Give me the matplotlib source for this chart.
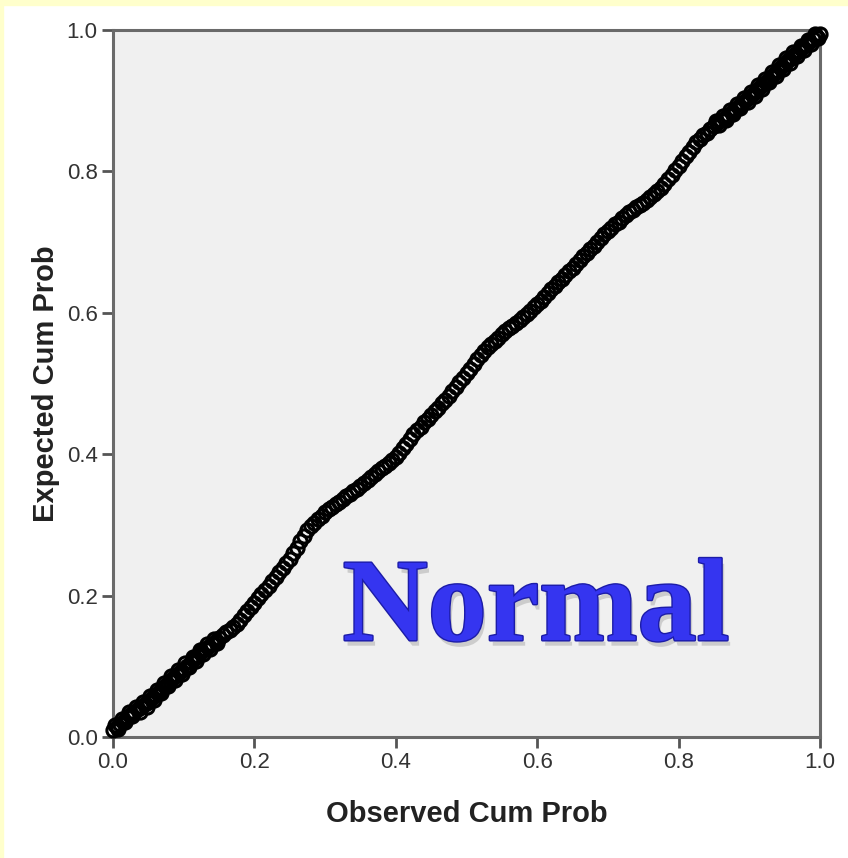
import matplotlib.pyplot as plt
import matplotlib.patheffects as pe
from matplotlib.patches import Rectangle

# observed vs expected cumulative probability
observed = [
    0.000, 0.005, 0.010, 0.015, 0.020, 0.025, 0.030, 0.035, 0.040, 0.045,
    0.050, 0.055, 0.060, 0.065, 0.070, 0.075, 0.080, 0.085, 0.090, 0.095,
    0.100, 0.105, 0.110, 0.115, 0.120, 0.125, 0.130, 0.135, 0.140, 0.145,
    0.150, 0.155, 0.160, 0.165, 0.170, 0.175, 0.180, 0.185, 0.190, 0.195,
    0.200, 0.205, 0.210, 0.215, 0.220, 0.225, 0.230, 0.235, 0.240, 0.245,
    0.250, 0.255, 0.260, 0.265, 0.270, 0.275, 0.280, 0.285, 0.290, 0.295,
    0.300, 0.305, 0.310, 0.315, 0.320, 0.325, 0.330, 0.335, 0.340, 0.345,
    0.350, 0.355, 0.360, 0.365, 0.370, 0.375, 0.380, 0.385, 0.390, 0.395,
    0.400, 0.405, 0.410, 0.415, 0.420, 0.425, 0.430, 0.435, 0.440, 0.445,
    0.450, 0.455, 0.460, 0.465, 0.470, 0.475, 0.480, 0.485, 0.490, 0.495,
    0.500, 0.505, 0.510, 0.515, 0.520, 0.525, 0.530, 0.535, 0.540, 0.545,
    0.550, 0.555, 0.560, 0.565, 0.570, 0.575, 0.580, 0.585, 0.590, 0.595,
    0.600, 0.605, 0.610, 0.615, 0.620, 0.625, 0.630, 0.635, 0.640, 0.645,
    0.650, 0.655, 0.660, 0.665, 0.670, 0.675, 0.680, 0.685, 0.690, 0.695,
    0.700, 0.705, 0.710, 0.715, 0.720, 0.725, 0.730, 0.735, 0.740, 0.745,
    0.750, 0.755, 0.760, 0.765, 0.770, 0.775, 0.780, 0.785, 0.790, 0.795,
    0.800, 0.805, 0.810, 0.815, 0.820, 0.825, 0.830, 0.835, 0.840, 0.845,
    0.850, 0.855, 0.860, 0.865, 0.870, 0.875, 0.880, 0.885, 0.890, 0.895,
    0.900, 0.905, 0.910, 0.915, 0.920, 0.925, 0.930, 0.935, 0.940, 0.945,
    0.950, 0.955, 0.960, 0.965, 0.970, 0.975, 0.980, 0.985, 0.990, 0.995,
    1.000,
]
expected = [
    0.010, 0.014, 0.019, 0.023, 0.028, 0.032, 0.035, 0.039, 0.043, 0.046,
    0.050, 0.055, 0.060, 0.064, 0.069, 0.074, 0.079, 0.083, 0.087, 0.092,
    0.096, 0.101, 0.106, 0.110, 0.115, 0.120, 0.124, 0.128, 0.132, 0.136,
    0.140, 0.144, 0.148, 0.152, 0.156, 0.160, 0.166, 0.172, 0.178, 0.184,
    0.190, 0.196, 0.202, 0.208, 0.214, 0.220, 0.226, 0.233, 0.239, 0.246,
    0.252, 0.260, 0.268, 0.277, 0.285, 0.293, 0.298, 0.303, 0.308, 0.313,
    0.318, 0.322, 0.326, 0.329, 0.333, 0.337, 0.341, 0.344, 0.348, 0.351,
    0.355, 0.359, 0.363, 0.368, 0.372, 0.376, 0.380, 0.384, 0.388, 0.392,
    0.396, 0.402, 0.409, 0.415, 0.422, 0.428, 0.434, 0.439, 0.445, 0.450,
    0.456, 0.461, 0.466, 0.472, 0.477, 0.482, 0.489, 0.495, 0.502, 0.508,
    0.515, 0.521, 0.527, 0.534, 0.540, 0.546, 0.551, 0.556, 0.560, 0.565,
    0.570, 0.574, 0.578, 0.582, 0.586, 0.590, 0.594, 0.599, 0.603, 0.608,
    0.612, 0.617, 0.622, 0.628, 0.633, 0.638, 0.643, 0.648, 0.654, 0.659,
    0.664, 0.669, 0.674, 0.680, 0.685, 0.690, 0.695, 0.700, 0.706, 0.711,
    0.716, 0.720, 0.725, 0.729, 0.734, 0.738, 0.742, 0.745, 0.749, 0.752,
    0.756, 0.760, 0.764, 0.768, 0.772, 0.776, 0.782, 0.789, 0.795, 0.802,
    0.808, 0.815, 0.822, 0.828, 0.835, 0.842, 0.846, 0.851, 0.855, 0.860,
    0.864, 0.868, 0.872, 0.876, 0.880, 0.884, 0.888, 0.892, 0.897, 0.901,
    0.905, 0.910, 0.914, 0.919, 0.923, 0.928, 0.933, 0.938, 0.942, 0.947,
    0.952, 0.957, 0.961, 0.966, 0.970, 0.975, 0.979, 0.983, 0.987, 0.991,
    0.995,
]
# the tails are packed much tighter in the picture
observed_low = [
    0.0025, 0.0075, 0.0125, 0.0175, 0.0225, 0.0275, 0.0325, 0.0375, 0.0425, 0.0475,
    0.0525, 0.0575, 0.0625, 0.0675, 0.0725, 0.0775, 0.0825, 0.0875, 0.0925, 0.0975,
    0.1025, 0.1075, 0.1125, 0.1175, 0.1225, 0.1275, 0.1325, 0.1375, 0.1425, 0.1475,
]
expected_low = [
    0.017, 0.012, 0.026, 0.021, 0.035, 0.029, 0.042, 0.036, 0.050, 0.043,
    0.058, 0.052, 0.067, 0.062, 0.077, 0.072, 0.086, 0.080, 0.095, 0.089,
    0.104, 0.099, 0.113, 0.108, 0.123, 0.117, 0.131, 0.125, 0.139, 0.133,
]
observed_high = [
    0.8525, 0.8575, 0.8625, 0.8675, 0.8725, 0.8775, 0.8825, 0.8875, 0.8925, 0.8975,
    0.9025, 0.9075, 0.9125, 0.9175, 0.9225, 0.9275, 0.9325, 0.9375, 0.9425, 0.9475,
    0.9525, 0.9575, 0.9625, 0.9675, 0.9725, 0.9775, 0.9825, 0.9875, 0.9925, 0.9975,
]
expected_high = [
    0.871, 0.865, 0.879, 0.873, 0.887, 0.881, 0.895, 0.890, 0.904, 0.898,
    0.913, 0.907, 0.922, 0.916, 0.931, 0.926, 0.941, 0.935, 0.950, 0.945,
    0.960, 0.954, 0.969, 0.963, 0.978, 0.972, 0.986, 0.980, 0.994, 0.988,
]
ticks = [0.0, 0.2, 0.4, 0.6, 0.8, 1.0]
tick_labels = ["0.0", "0.2", "0.4", "0.6", "0.8", "1.0"]

plt.rcParams['font.family'] = ['Liberation Sans', 'DejaVu Sans']

fig = plt.figure(figsize=(8.48, 8.58), dpi=100, facecolor='white')
# pale yellow frame strips (top and left)
fig.patches.append(Rectangle((0, 1 - 5 / 858), 1, 5 / 858, transform=fig.transFigure,
                             color='#FFFFCC', zorder=0))
fig.patches.append(Rectangle((0, 0), 3 / 848, 1, transform=fig.transFigure,
                             color='#FFFFCC', zorder=0))

ax = fig.add_axes([113 / 848, 121 / 858, 707 / 848, 707 / 858])
ax.set_facecolor('#F0F0F0')

marker_style = dict(linestyle='none', marker='o', markersize=9.5,
                    markerfacecolor='none', markeredgecolor='black',
                    markeredgewidth=2.2, clip_on=False, zorder=3)
ax.plot(observed, expected, **marker_style)
ax.plot(observed_low, expected_low, **marker_style)
ax.plot(observed_high, expected_high, **marker_style)

ax.set_xlim(0, 1)
ax.set_ylim(0, 1)
ax.set_xticks(ticks)
ax.set_xticklabels(tick_labels)
ax.set_yticks(ticks)
ax.set_yticklabels(tick_labels)
ax.tick_params(direction='out', length=8, width=2, color='#555555',
               labelsize=16, labelcolor='#333333', pad=3)

for side in ['left', 'right', 'top', 'bottom']:
    ax.spines[side].set_linewidth(2.2)
    ax.spines[side].set_color('#6a6a6a')

ax.set_xlabel("Observed Cum Prob", fontsize=21, fontweight='bold',
              color='#222222', labelpad=19)
ax.set_ylabel("Expected Cum Prob", fontsize=21, fontweight='bold',
              color='#222222', labelpad=5)

ax.text(0.598, 0.137, "Normal", fontsize=85, fontweight='bold',
        family='Liberation Serif', color='#3535F0', ha='center', va='baseline',
        path_effects=[pe.withSimplePatchShadow(offset=(2, -4), shadow_rgbFace='#aaaaaa', alpha=0.5),
                      pe.Stroke(linewidth=2, foreground='#1c1ca8'),
                      pe.Normal()],
        zorder=4)

fig.savefig("out.png", dpi=100, facecolor=fig.get_facecolor())
